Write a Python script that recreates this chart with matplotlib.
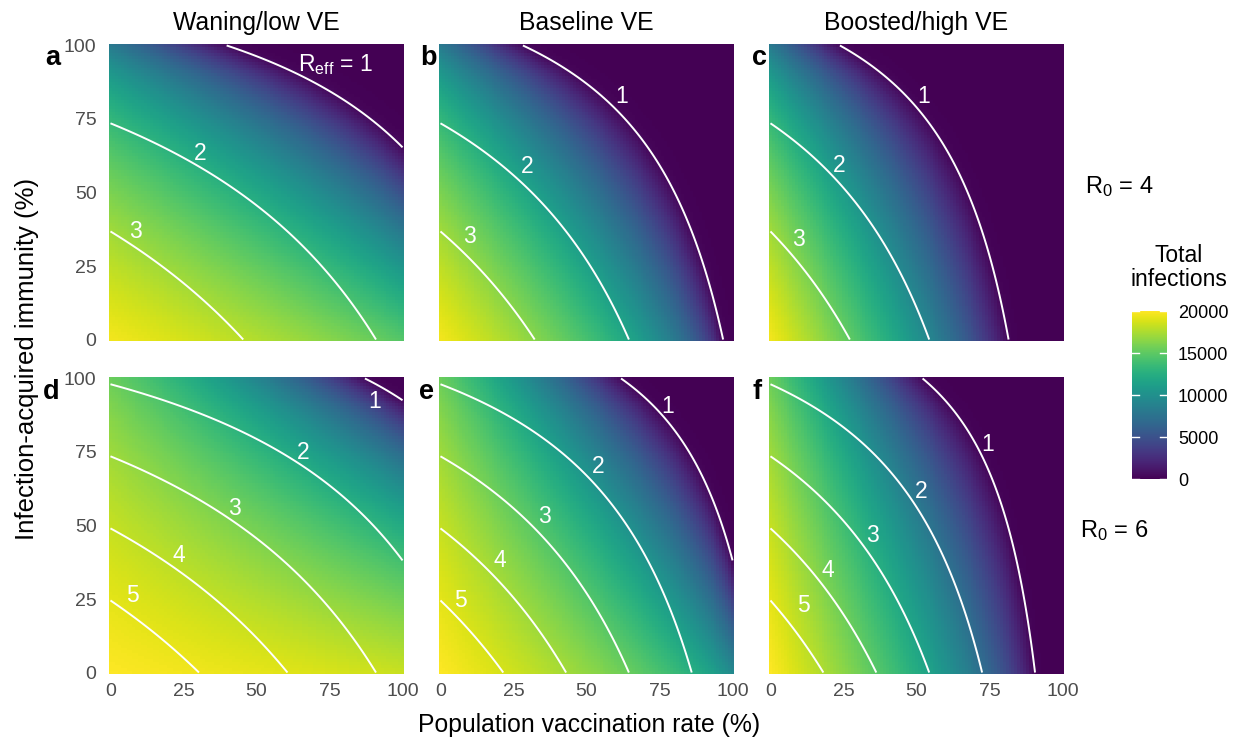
import numpy as np
import matplotlib
matplotlib.use("Agg")
import matplotlib.pyplot as plt

plt.rcParams["font.family"] = ["Liberation Sans", "DejaVu Sans"]
plt.rcParams["mathtext.fontset"] = "custom"
plt.rcParams["mathtext.rm"] = "Liberation Sans"
plt.rcParams["mathtext.it"] = "Liberation Sans:italic"
plt.rcParams["mathtext.bf"] = "Liberation Sans:bold"

# ---- data / model parameters ----
population = 20000
seed_infections = 10
r0_values = [4, 6]
scenario_names = ["Waning/low VE", "Baseline VE", "Boosted/high VE"]
vaccine_effectiveness = [0.55, 0.775, 0.92]
infection_protection = 0.68
vaccination_rate = np.arange(0, 101)     # %
infection_immunity = np.arange(0, 101)   # %
reff_levels = [1, 2, 3, 4, 5]
axis_ticks = [0, 25, 50, 75, 100]
colorbar_ticks = [0, 5000, 10000, 15000, 20000]
panel_tags = ["a", "b", "c", "d", "e", "f"]

# where the contour labels sit (x %, y %), per panel
label_pos = {
    0: {1: (77, 93.5), 2: (30.8, 63.4), 3: (8.6, 36.6)},
    1: {1: (62.1, 82.6), 2: (29.6, 58.7), 3: (9.9, 34.9)},
    2: {1: (52.3, 82.5), 2: (23.5, 59.3), 3: (9.5, 34.0)},
    3: {1: (90.4, 92.3), 2: (66.1, 74.9), 3: (42.4, 55.8), 4: (23.3, 39.9), 5: (7.5, 26.1)},
    4: {1: (77.9, 90.6), 2: (54.0, 70.2), 3: (35.5, 53.1), 4: (20.3, 38.2), 5: (6.7, 24.5)},
    5: {1: (74.4, 77.5), 2: (51.7, 61.4), 3: (34.9, 46.6), 4: (19.6, 34.8), 5: (11.2, 22.7)},
}


def reff_field(r0, ve, prot, v, y):
    return r0 * (1 - ve * v) * (1 - prot * y)


def total_infections(r0, ve, prot, v, y):
    # final size with four immunity groups (naive, vaccinated, recovered, hybrid)
    p = [(1 - v) * (1 - y), v * (1 - y), (1 - v) * y, v * y]
    s = [1.0, 1 - ve, 1 - prot, (1 - ve) * (1 - prot)]
    eps = seed_infections / population
    lo = np.zeros_like(v)
    hi = np.ones_like(v)
    for _ in range(60):
        mid = (lo + hi) / 2
        f = sum(pk * (1 - (1 - eps) * np.exp(-sk * r0 * mid)) for pk, sk in zip(p, s)) - mid
        lo = np.where(f > 0, mid, lo)
        hi = np.where(f > 0, hi, mid)
    return population * (lo + hi) / 2


W, H = 1238, 737
fig = plt.figure(figsize=(W / 100, H / 100), dpi=100)

col_left = [109, 439, 769]
row_top = [44, 377]
pw, ph = 295, 297

V, Y = np.meshgrid(vaccination_rate / 100, infection_immunity / 100)
gray = "#4d4d4d"

mesh = None
for r, r0 in enumerate(r0_values):
    for c, ve in enumerate(vaccine_effectiveness):
        k = r * 3 + c
        ax = fig.add_axes([col_left[c] / W, 1 - (row_top[r] + ph) / H, pw / W, ph / H])
        z = total_infections(r0, ve, infection_protection, V, Y)
        mesh = ax.pcolormesh(vaccination_rate, infection_immunity, z, cmap="viridis",
                             vmin=0, vmax=20000, shading="nearest", rasterized=True)
        reff = reff_field(r0, ve, infection_protection, V, Y)
        ax.contour(vaccination_rate, infection_immunity, reff, levels=reff_levels,
                   colors="white", linewidths=1.4)
        for lev, (lx, ly) in label_pos[k].items():
            txt = str(lev)
            if k == 0 and lev == 1:
                txt = r"R$_{\mathregular{eff}}$ = 1"
            ax.text(lx, ly, txt, color="white", fontsize=16.5, ha="center", va="center")
        ax.set_xlim(-0.5, 100.5)
        ax.set_ylim(-0.5, 100.5)
        for sp in ax.spines.values():
            sp.set_visible(False)
        ax.set_xticks(axis_ticks)
        ax.set_yticks(axis_ticks)
        ax.tick_params(length=0, labelsize=14, labelcolor=gray)
        ax.tick_params(axis="x", pad=6.5)
        ax.tick_params(axis="y", pad=9)
        if r == 0:
            ax.set_xticklabels([])
            fig.text((col_left[c] + pw / 2) / W, 1 - 30 / H, scenario_names[c],
                     ha="center", va="baseline", fontsize=17.8)
        if c > 0:
            ax.set_yticklabels([])

# panel tags
tag_xy = [(45, 65), (420, 65), (752, 65), (43, 399), (419, 399), (753, 399)]
for t, (tx, ty) in zip(panel_tags, tag_xy):
    fig.text(tx / W, 1 - ty / H, t, fontsize=19.5, fontweight="bold",
             ha="left", va="baseline")

# row labels
fig.text(1085 / W, 1 - 193 / H, r"R$_0$ = 4", fontsize=17, ha="left", va="baseline")
fig.text(1080 / W, 1 - 537 / H, r"R$_0$ = 6", fontsize=17, ha="left", va="baseline")

# axis titles
fig.text(589 / W, 1 - 732 / H, "Population vaccination rate (%)", fontsize=17.8,
         ha="center", va="baseline")
fig.text(27 / W, 1 - 359 / H, "Infection-acquired immunity (%)", fontsize=18.5,
         ha="center", va="center", rotation=90)

# colorbar
cax = fig.add_axes([1132 / W, 1 - 479 / H, 35 / W, 168 / H])
cb = fig.colorbar(mesh, cax=cax, ticks=colorbar_ticks)
cb.outline.set_visible(False)
cax.tick_params(length=0, labelsize=13, pad=8)
for t in colorbar_ticks:
    cax.axhline(t, xmin=0, xmax=0.2, color="white", lw=1)
    cax.axhline(t, xmin=0.8, xmax=1, color="white", lw=1)
fig.text(1179 / W, 1 - 262 / H, "Total", fontsize=16.5, ha="center", va="baseline")
fig.text(1179 / W, 1 - 286 / H, "infections", fontsize=16.5, ha="center", va="baseline")

fig.savefig("out.png", dpi=100)
